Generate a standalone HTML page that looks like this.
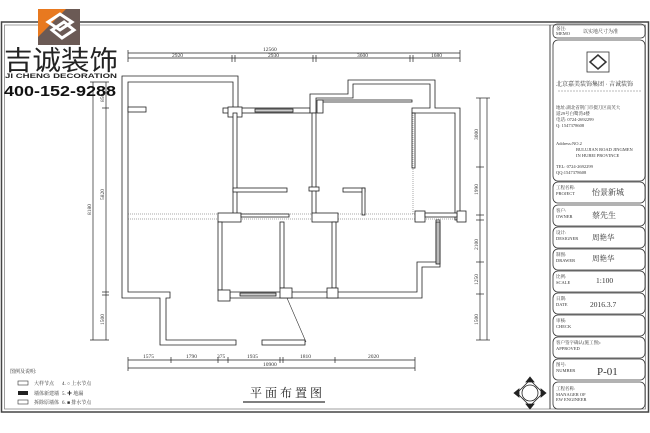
<!DOCTYPE html>
<html><head><meta charset="utf-8"><style>
html,body{margin:0;padding:0;background:#fff;}
svg{display:block;font-family:"Liberation Serif","Noto Serif CJK SC",serif;}
</style></head><body>
<svg width="650" height="433" viewBox="0 0 650 433" xmlns="http://www.w3.org/2000/svg">
<rect width="650" height="433" fill="#fff"/>
<!-- frame -->
<rect x="1.5" y="22" width="647" height="390" fill="none" stroke="#444" stroke-width="1.5"/>
<rect x="4.5" y="25" width="641" height="384" fill="none" stroke="#777" stroke-width="0.7"/>
<line x1="550" y1="25" x2="550" y2="409" stroke="#444" stroke-width="1"/>
<!-- logo -->
<rect x="38" y="9" width="42" height="36" fill="#6b5a55"/>
<polygon points="38,9 66,9 38,37" fill="#e8791f"/>
<path d="M48 22 L60 14 L72 22 L60 30 Z M52 30 L64 22 L74 30 L62 38 Z" fill="none" stroke="#fff" stroke-width="3"/>
<text x="4" y="70" font-family="Liberation Sans,'Noto Sans CJK SC',sans-serif" font-size="27" fill="#222" textLength="114" lengthAdjust="spacingAndGlyphs">吉诚装饰</text>
<text x="5" y="78" font-family="Liberation Sans,sans-serif" font-size="6.5" font-weight="bold" fill="#222" textLength="112" lengthAdjust="spacingAndGlyphs">JI CHENG DECORATION</text>
<text x="4" y="96" font-family="Liberation Sans,sans-serif" font-size="15" font-weight="bold" fill="#111" textLength="112" lengthAdjust="spacingAndGlyphs">400-152-9288</text>

<g stroke="#222" stroke-width="0.7" fill="none">
<!-- top dims -->
<line x1="128" y1="53" x2="460" y2="53"/>
<line x1="128" y1="58" x2="460" y2="58"/>
<line x1="128" y1="50" x2="128" y2="62"/><line x1="232" y1="55" x2="232" y2="62"/><line x1="235" y1="55" x2="235" y2="62"/>
<line x1="313" y1="55" x2="313" y2="62"/><line x1="316" y1="55" x2="316" y2="62"/>
<line x1="410" y1="55" x2="410" y2="62"/><line x1="413" y1="55" x2="413" y2="62"/><line x1="460" y1="50" x2="460" y2="62"/>
<!-- left dims -->
<line x1="93" y1="82" x2="93" y2="340"/><line x1="106" y1="82" x2="106" y2="340"/>
<line x1="90" y1="82" x2="109" y2="82"/><line x1="102" y1="108" x2="109" y2="108"/><line x1="102" y1="292" x2="109" y2="292"/><line x1="102" y1="295" x2="109" y2="295"/><line x1="90" y1="340" x2="109" y2="340"/>
<!-- right dims -->
<line x1="480" y1="98" x2="480" y2="340"/><line x1="487" y1="98" x2="487" y2="340"/>
<line x1="476" y1="98" x2="490" y2="98"/><line x1="476" y1="167" x2="484" y2="167"/><line x1="476" y1="215" x2="484" y2="215"/><line x1="476" y1="220" x2="484" y2="220"/><line x1="476" y1="262" x2="484" y2="262"/><line x1="476" y1="294" x2="484" y2="294"/><line x1="476" y1="340" x2="490" y2="340"/>
<!-- bottom dims -->
<line x1="128" y1="360" x2="415" y2="360"/><line x1="128" y1="368" x2="415" y2="368"/>
<line x1="128" y1="357" x2="128" y2="371"/><line x1="171" y1="357" x2="171" y2="363"/><line x1="218" y1="357" x2="218" y2="363"/><line x1="228" y1="357" x2="228" y2="363"/><line x1="280" y1="357" x2="280" y2="363"/><line x1="283" y1="357" x2="283" y2="363"/><line x1="335" y1="357" x2="335" y2="363"/><line x1="415" y1="357" x2="415" y2="371"/>
</g>
<g font-size="5.5" fill="#333">
<text x="263" y="51">12560</text><text x="172" y="57">2920</text><text x="268" y="57">2930</text><text x="357" y="57">3600</text><text x="431" y="57">1680</text>
<text x="143" y="358">1575</text><text x="186" y="358">1790</text><text x="217" y="358">375</text><text x="247" y="358">1935</text><text x="300" y="358">1810</text><text x="368" y="358">2020</text><text x="263" y="366">10900</text>
<text transform="translate(91,215) rotate(-90)">8180</text><text transform="translate(104,200) rotate(-90)">5820</text><text transform="translate(104,102) rotate(-90)">850</text><text transform="translate(104,325) rotate(-90)">1500</text>
<text transform="translate(478,140) rotate(-90)">3000</text><text transform="translate(478,195) rotate(-90)">1990</text><text transform="translate(478,250) rotate(-90)">2100</text><text transform="translate(478,285) rotate(-90)">1250</text><text transform="translate(478,325) rotate(-90)">1500</text>
</g>

<!-- walls -->
<g stroke="#222" stroke-width="0.8" fill="#fff">
<path d="M122 76 H238 V108 H233 V82 H128 V292 H170 V298 H166 V340 H236 V345 H160 V298 H122 Z"/>
<rect x="128" y="107" width="18" height="5"/>
<rect x="223" y="108" width="87" height="5"/>
<rect x="255" y="109" width="38" height="3" fill="#ccc"/>
<rect x="228" y="107" width="14" height="10"/>
<path d="M310 113 V94 H348 V80 H435 V108 H460 V220 H455 V113 H412 V108 H430 V84 H353 V98 H316 V113 Z"/>
<rect x="318" y="100" width="94" height="2"/>
<rect x="317" y="100" width="6" height="13"/>
<rect x="412" y="113" width="3" height="55"/>
<line x1="413" y1="113" x2="413" y2="215" stroke="#555" stroke-width="0.5" stroke-dasharray="1,1"/>
<rect x="233" y="113" width="4" height="102"/>
<rect x="233" y="188" width="54" height="4"/>
<rect x="312" y="113" width="4" height="102"/>
<rect x="309" y="187" width="10" height="4"/>
<rect x="343" y="188" width="22" height="4"/>
<rect x="362" y="188" width="3" height="27"/>
<line x1="128" y1="214" x2="460" y2="214" stroke="#555" stroke-width="0.5" stroke-dasharray="1,1"/>
<line x1="128" y1="219" x2="460" y2="219" stroke="#555" stroke-width="0.5" stroke-dasharray="1,1"/>
<rect x="218" y="213" width="23" height="9"/>
<rect x="241" y="214" width="48" height="3"/>
<rect x="312" y="213" width="26" height="9"/>
<rect x="415" y="211" width="10" height="11"/>
<rect x="457" y="211" width="9" height="11"/>
<rect x="425" y="213" width="32" height="4"/>
<rect x="218" y="222" width="4" height="68"/>
<rect x="280" y="222" width="4" height="66"/>
<rect x="332" y="222" width="4" height="66"/>
<path d="M436 220 H440 V267 H422 V298 H230 V292 H417 V262 H436 Z"/>
<rect x="436" y="222" width="4" height="42" fill="#bbb"/>
<rect x="218" y="290" width="12" height="11"/>
<rect x="280" y="288" width="12" height="10"/>
<rect x="327" y="288" width="11" height="10"/>
<rect x="240" y="293" width="36" height="3" fill="#ccc"/>
<rect x="262" y="340" width="43" height="5"/>
</g>
<line x1="287" y1="298" x2="306" y2="342" stroke="#333" stroke-width="0.6"/>

<!-- legend -->
<g font-size="5" fill="#333">
<text x="10" y="373">图例及说明:</text>
<rect x="18" y="381" width="10" height="4" fill="none" stroke="#333" stroke-width="0.6"/><text x="34" y="385">大样节点</text><text x="62" y="385">4. ○ 上水节点</text>
<rect x="18" y="391" width="10" height="4" fill="#222"/><text x="34" y="395">墙体新建墙</text><text x="62" y="395">5. ✚ 地漏</text>
<rect x="18" y="400" width="10" height="4" fill="none" stroke="#333" stroke-width="0.6"/><text x="34" y="404">拆除原墙体</text><text x="62" y="404">6. ■ 排水节点</text>
</g>
<text x="250" y="397" font-size="12" fill="#222" letter-spacing="3">平面布置图</text>
<line x1="243" y1="402" x2="325" y2="402" stroke="#555" stroke-width="1.5"/>

<!-- compass -->
<g transform="translate(530,393)" stroke="#222" stroke-width="0.8">
<polygon points="0,-13 13,0 0,13 -13,0" fill="#fff"/>
<polygon points="-16,0 -11,-4 -11,4" fill="#222"/><polygon points="16,0 11,-4 11,4" fill="#222"/>
<polygon points="0,-16 -4,-11 4,-11" fill="#222"/><polygon points="0,16 -4,11 4,11" fill="#222"/>
<circle cx="0" cy="0" r="8" fill="none"/>
</g>

<!-- title block -->
<g fill="none" stroke="#333" stroke-width="0.8">
<rect x="553" y="24" width="92" height="14" rx="4"/>
<rect x="553" y="40" width="92" height="141" rx="5"/>
<rect x="553" y="182" width="92" height="21" rx="5"/>
<rect x="553" y="205" width="92" height="21" rx="5"/>
<rect x="553" y="227" width="92" height="21" rx="5"/>
<rect x="553" y="249" width="92" height="21" rx="5"/>
<rect x="553" y="271" width="92" height="21" rx="5"/>
<rect x="553" y="293" width="92" height="21" rx="5"/>
<rect x="553" y="315" width="92" height="21" rx="5"/>
<rect x="553" y="337" width="92" height="21" rx="5"/>
<rect x="553" y="359" width="92" height="21" rx="5"/>
<rect x="553" y="382" width="92" height="27" rx="5"/>
</g>
<g fill="#333" font-size="4.5">
<text x="556" y="30">备注:</text><text x="556" y="35">MEMO</text><text x="583" y="33" font-size="5">以实地尺寸为准</text>
<rect x="587" y="52" width="22" height="20" fill="#fff" stroke="#333" stroke-width="0.8"/>
<path d="M590 62 L598 55 L606 62 L598 69 Z" fill="none" stroke="#333" stroke-width="1.5"/>
<text x="556" y="86" font-size="6">北京嘉美装饰集团 · 吉诚装饰</text>
<line x1="558" y1="91" x2="642" y2="91" stroke="#777" stroke-width="0.6" stroke-dasharray="2,1"/>
<text x="556" y="109">地址:湖北省荆门市掇刀区南芙大</text><text x="556" y="115">道29号白鹭湾4楼</text><text x="556" y="121">电话: 0724-2692299</text><text x="556" y="127">Q: 1547378608</text>
<text x="556" y="145">Address:NO.2</text><text x="576" y="151">BULUJIAN ROAD JINGMEN</text><text x="576" y="157">IN HUBEI PROVINCE</text>
<text x="556" y="168">TEL: 0724-2692299</text><text x="556" y="174">QQ:1547378608</text>
<text x="556" y="189">工程名称:</text><text x="556" y="195">PROJECT</text><text x="592" y="195" font-size="8">怡景新城</text>
<text x="556" y="212">客户:</text><text x="556" y="218">OWNER</text><text x="592" y="218" font-size="8">蔡先生</text>
<text x="556" y="234">设计:</text><text x="556" y="240">DESIGNER</text><text x="592" y="240" font-size="7.5">周艳华</text>
<text x="556" y="256">制图:</text><text x="556" y="262">DRAWER</text><text x="592" y="261" font-size="7.5">周艳华</text>
<text x="556" y="278">比例:</text><text x="556" y="284">SCALE</text><text x="596" y="283" font-size="7.5">1:100</text>
<text x="556" y="300">日期:</text><text x="556" y="306">DATE</text><text x="590" y="307" font-size="7.5">2016.3.7</text>
<text x="556" y="322">审核:</text><text x="556" y="328">CHECK</text>
<text x="556" y="344">客户签字确认(施工图):</text><text x="556" y="350">APPROVED</text>
<text x="556" y="366">图号:</text><text x="556" y="372">NUMBER</text><text x="597" y="375" font-size="11">P-01</text>
<text x="556" y="390">工程名称:</text><text x="556" y="396">MANAGER OF</text><text x="556" y="401">EW ENGINEER</text>
</g>
</svg>
</body></html>
